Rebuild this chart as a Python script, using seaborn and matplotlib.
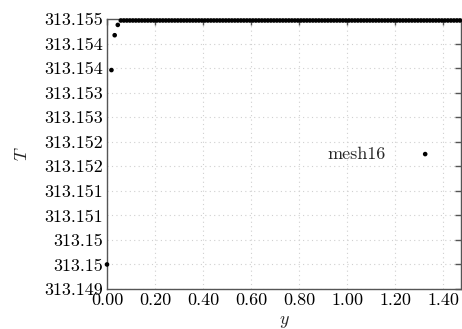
import matplotlib
matplotlib.use("Agg")
import matplotlib.pyplot as plt
import pandas as pd
import seaborn as sns

# --- dados (perfil de temperatura, mesh16) ---
y_mesh = [
    0.0, 0.0185, 0.032, 0.045, 0.0575, 0.07, 0.0825, 0.095,
    0.1075, 0.12, 0.1325, 0.145, 0.1575, 0.17, 0.1825, 0.195,
    0.2075, 0.22, 0.2325, 0.245, 0.2575, 0.27, 0.2825, 0.295,
    0.3075, 0.32, 0.3325, 0.345, 0.3575, 0.37, 0.3825, 0.395,
    0.4075, 0.42, 0.4325, 0.445, 0.4575, 0.47, 0.4825, 0.495,
    0.5075, 0.52, 0.5325, 0.545, 0.5575, 0.57, 0.5825, 0.595,
    0.6075, 0.62, 0.6325, 0.645, 0.6575, 0.67, 0.6825, 0.695,
    0.7075, 0.72, 0.7325, 0.745, 0.7575, 0.77, 0.7825, 0.795,
    0.8075, 0.82, 0.8325, 0.845, 0.8575, 0.87, 0.8825, 0.895,
    0.9075, 0.92, 0.9325, 0.945, 0.9575, 0.97, 0.9825, 0.995,
    1.0075, 1.02, 1.0325, 1.045, 1.0575, 1.07, 1.0825, 1.095,
    1.1075, 1.12, 1.1325, 1.145, 1.1575, 1.17, 1.1825, 1.195,
    1.2075, 1.22, 1.2325, 1.245, 1.2575, 1.27, 1.2825, 1.295,
    1.3075, 1.32, 1.3325, 1.345, 1.3575, 1.37, 1.3825, 1.395,
    1.4075, 1.42, 1.4325, 1.445, 1.4575, 1.47,
]
t_parede = [313.1500, 313.15396, 313.15467, 313.15488]
t_plato = 313.15497
T_mesh = t_parede + [t_plato] * (len(y_mesh) - len(t_parede))

yticks = [313.1495, 313.150, 313.1505, 313.151, 313.1515, 313.152,
          313.1525, 313.153, 313.1535, 313.154, 313.1545, 313.155]
ytick_labels = ["313.149", "313.15", "313.15", "313.151", "313.151", "313.152",
                "313.152", "313.153", "313.153", "313.154", "313.154", "313.155"]
xticks = [0.0, 0.2, 0.4, 0.6, 0.8, 1.0, 1.2, 1.4]
xtick_labels = ["0.00", "0.20", "0.40", "0.60", "0.80", "1.00", "1.20", "1.40"]

df = pd.DataFrame({"y": y_mesh, "T": T_mesh})

sns.set_style("white")
plt.rcParams["font.family"] = ["cmr10", "DejaVu Serif"]
plt.rcParams["mathtext.fontset"] = "cm"
plt.rcParams["axes.unicode_minus"] = False

fig = plt.figure(figsize=(4.62, 3.29), dpi=100)
ax = fig.add_axes([0.2316, 0.1216, 0.7664, 0.8206])

sns.scatterplot(data=df, x="y", y="T", ax=ax, color="black", s=11,
                edgecolor="none", label="mesh16", clip_on=False, zorder=3)

ax.set_xlim(0, 1.475)
ax.set_ylim(313.1495, 313.155)
ax.set_xticks(xticks)
ax.set_xticklabels(xtick_labels)
ax.set_yticks(yticks)
ax.set_yticklabels(ytick_labels)

ax.grid(True, color="#d0d0d0", linestyle=(0, (1, 3)), linewidth=0.8)
for s in ax.spines.values():
    s.set_color("#555555")
    s.set_linewidth(1.0)
ax.tick_params(direction="in", length=4, width=1.0, color="#555555",
               top=True, right=True, labelsize=13, pad=3, labelcolor="black")

ax.set_xlabel("$y$", fontsize=13, labelpad=4)
ax.set_ylabel("$T$", fontsize=13, labelpad=10)

ax.legend(loc="center right", bbox_to_anchor=(0.97, 0.5), frameon=False,
          markerfirst=False, fontsize=13, handletextpad=1.2,
          markerscale=1.0, borderaxespad=0)

fig.savefig("out.png", dpi=100)
